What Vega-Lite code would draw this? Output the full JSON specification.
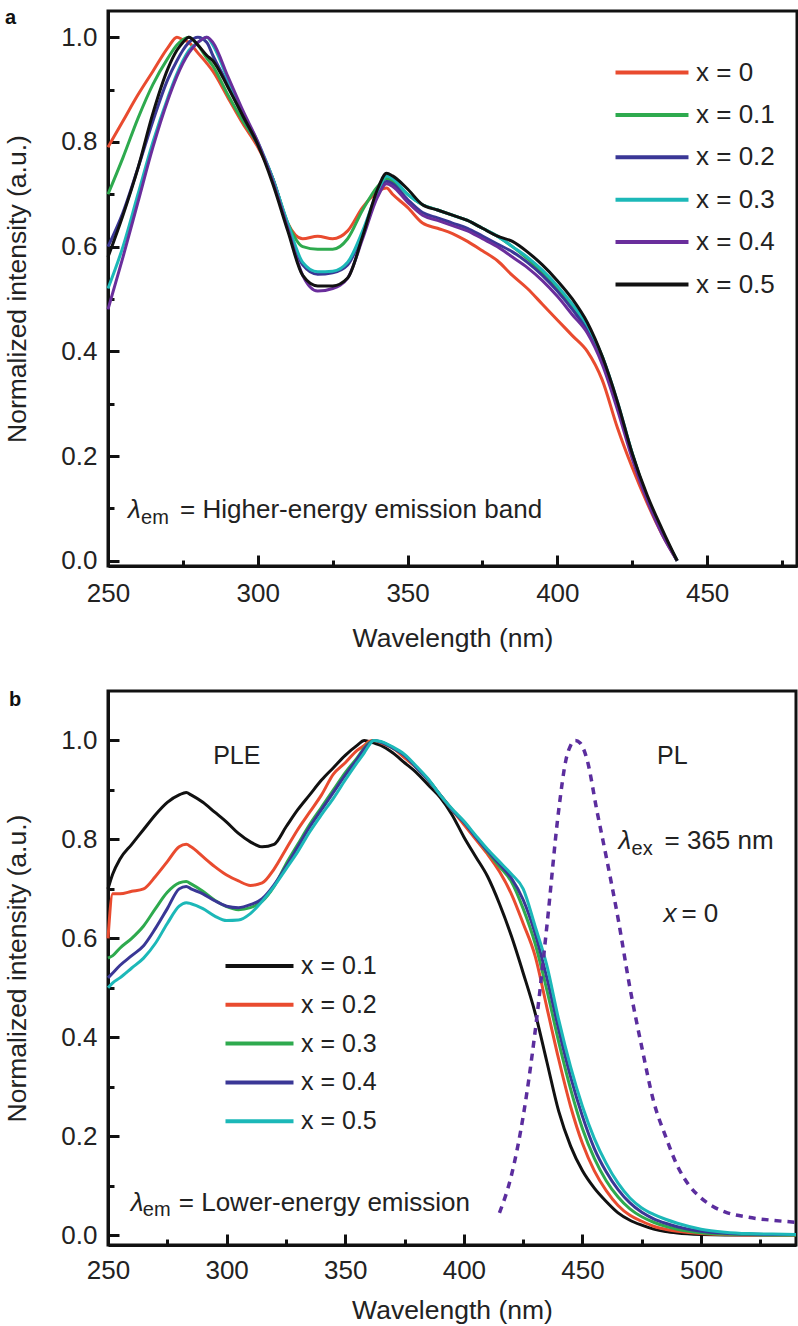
{
"$schema":"https://vega.github.io/schema/vega-lite/v6.json",
"background":"white",
"padding":{"left":3,"top":6,"right":2,"bottom":0},
"spacing":35,
"resolve":{"scale":{"color":"independent"}},
"datasets":{
"a":[
{"s":"x = 0","w":250,"v":0.79},{"s":"x = 0","w":255,"v":0.84},{"s":"x = 0","w":260,"v":0.89},{"s":"x = 0","w":265,"v":0.935},{"s":"x = 0","w":270,"v":0.98},{"s":"x = 0","w":273,"v":1.0},{"s":"x = 0","w":275,"v":0.995},{"s":"x = 0","w":277,"v":0.99},{"s":"x = 0","w":280,"v":0.97},{"s":"x = 0","w":283,"v":0.95},{"s":"x = 0","w":285,"v":0.935},{"s":"x = 0","w":290,"v":0.885},{"s":"x = 0","w":295,"v":0.835},{"s":"x = 0","w":300,"v":0.79},{"s":"x = 0","w":305,"v":0.73},{"s":"x = 0","w":310,"v":0.645},{"s":"x = 0","w":315,"v":0.615},{"s":"x = 0","w":320,"v":0.62},{"s":"x = 0","w":325,"v":0.615},{"s":"x = 0","w":330,"v":0.63},{"s":"x = 0","w":335,"v":0.675},{"s":"x = 0","w":340,"v":0.705},{"s":"x = 0","w":343,"v":0.712},{"s":"x = 0","w":345,"v":0.7},{"s":"x = 0","w":350,"v":0.675},{"s":"x = 0","w":355,"v":0.645},{"s":"x = 0","w":360,"v":0.635},{"s":"x = 0","w":365,"v":0.625},{"s":"x = 0","w":370,"v":0.61},{"s":"x = 0","w":375,"v":0.592},{"s":"x = 0","w":380,"v":0.573},{"s":"x = 0","w":385,"v":0.545},{"s":"x = 0","w":390,"v":0.52},{"s":"x = 0","w":395,"v":0.49},{"s":"x = 0","w":400,"v":0.46},{"s":"x = 0","w":405,"v":0.43},{"s":"x = 0","w":410,"v":0.4},{"s":"x = 0","w":415,"v":0.345},{"s":"x = 0","w":420,"v":0.255},{"s":"x = 0","w":425,"v":0.178},{"s":"x = 0","w":430,"v":0.11},{"s":"x = 0","w":435,"v":0.05},{"s":"x = 0","w":440,"v":0.0},
{"s":"x = 0.1","w":250,"v":0.7},{"s":"x = 0.1","w":255,"v":0.77},{"s":"x = 0.1","w":260,"v":0.845},{"s":"x = 0.1","w":265,"v":0.91},{"s":"x = 0.1","w":270,"v":0.96},{"s":"x = 0.1","w":273,"v":0.985},{"s":"x = 0.1","w":275,"v":0.995},{"s":"x = 0.1","w":277,"v":1.0},{"s":"x = 0.1","w":280,"v":0.985},{"s":"x = 0.1","w":283,"v":0.96},{"s":"x = 0.1","w":285,"v":0.945},{"s":"x = 0.1","w":290,"v":0.89},{"s":"x = 0.1","w":295,"v":0.84},{"s":"x = 0.1","w":300,"v":0.795},{"s":"x = 0.1","w":305,"v":0.73},{"s":"x = 0.1","w":310,"v":0.645},{"s":"x = 0.1","w":315,"v":0.6},{"s":"x = 0.1","w":320,"v":0.595},{"s":"x = 0.1","w":325,"v":0.595},{"s":"x = 0.1","w":330,"v":0.615},{"s":"x = 0.1","w":335,"v":0.67},{"s":"x = 0.1","w":340,"v":0.715},{"s":"x = 0.1","w":343,"v":0.73},{"s":"x = 0.1","w":345,"v":0.725},{"s":"x = 0.1","w":350,"v":0.7},{"s":"x = 0.1","w":355,"v":0.68},{"s":"x = 0.1","w":360,"v":0.67},{"s":"x = 0.1","w":365,"v":0.66},{"s":"x = 0.1","w":370,"v":0.65},{"s":"x = 0.1","w":375,"v":0.635},{"s":"x = 0.1","w":380,"v":0.62},{"s":"x = 0.1","w":385,"v":0.6},{"s":"x = 0.1","w":390,"v":0.577},{"s":"x = 0.1","w":395,"v":0.55},{"s":"x = 0.1","w":400,"v":0.52},{"s":"x = 0.1","w":405,"v":0.485},{"s":"x = 0.1","w":410,"v":0.445},{"s":"x = 0.1","w":415,"v":0.39},{"s":"x = 0.1","w":420,"v":0.3},{"s":"x = 0.1","w":425,"v":0.205},{"s":"x = 0.1","w":430,"v":0.12},{"s":"x = 0.1","w":435,"v":0.055},{"s":"x = 0.1","w":440,"v":0.0},
{"s":"x = 0.2","w":250,"v":0.6},{"s":"x = 0.2","w":255,"v":0.665},{"s":"x = 0.2","w":260,"v":0.75},{"s":"x = 0.2","w":265,"v":0.84},{"s":"x = 0.2","w":270,"v":0.92},{"s":"x = 0.2","w":273,"v":0.955},{"s":"x = 0.2","w":275,"v":0.975},{"s":"x = 0.2","w":277,"v":0.99},{"s":"x = 0.2","w":280,"v":1.0},{"s":"x = 0.2","w":283,"v":0.99},{"s":"x = 0.2","w":285,"v":0.965},{"s":"x = 0.2","w":290,"v":0.91},{"s":"x = 0.2","w":295,"v":0.85},{"s":"x = 0.2","w":300,"v":0.795},{"s":"x = 0.2","w":305,"v":0.73},{"s":"x = 0.2","w":310,"v":0.64},{"s":"x = 0.2","w":315,"v":0.565},{"s":"x = 0.2","w":320,"v":0.547},{"s":"x = 0.2","w":325,"v":0.55},{"s":"x = 0.2","w":330,"v":0.565},{"s":"x = 0.2","w":335,"v":0.625},{"s":"x = 0.2","w":340,"v":0.7},{"s":"x = 0.2","w":343,"v":0.725},{"s":"x = 0.2","w":345,"v":0.72},{"s":"x = 0.2","w":350,"v":0.69},{"s":"x = 0.2","w":355,"v":0.665},{"s":"x = 0.2","w":360,"v":0.655},{"s":"x = 0.2","w":365,"v":0.645},{"s":"x = 0.2","w":370,"v":0.635},{"s":"x = 0.2","w":375,"v":0.62},{"s":"x = 0.2","w":380,"v":0.605},{"s":"x = 0.2","w":385,"v":0.59},{"s":"x = 0.2","w":390,"v":0.57},{"s":"x = 0.2","w":395,"v":0.545},{"s":"x = 0.2","w":400,"v":0.515},{"s":"x = 0.2","w":405,"v":0.48},{"s":"x = 0.2","w":410,"v":0.44},{"s":"x = 0.2","w":415,"v":0.38},{"s":"x = 0.2","w":420,"v":0.295},{"s":"x = 0.2","w":425,"v":0.2},{"s":"x = 0.2","w":430,"v":0.12},{"s":"x = 0.2","w":435,"v":0.055},{"s":"x = 0.2","w":440,"v":0.0},
{"s":"x = 0.3","w":250,"v":0.52},{"s":"x = 0.3","w":255,"v":0.6},{"s":"x = 0.3","w":260,"v":0.7},{"s":"x = 0.3","w":265,"v":0.8},{"s":"x = 0.3","w":270,"v":0.885},{"s":"x = 0.3","w":273,"v":0.93},{"s":"x = 0.3","w":275,"v":0.955},{"s":"x = 0.3","w":277,"v":0.975},{"s":"x = 0.3","w":280,"v":0.99},{"s":"x = 0.3","w":283,"v":1.0},{"s":"x = 0.3","w":285,"v":0.985},{"s":"x = 0.3","w":290,"v":0.92},{"s":"x = 0.3","w":295,"v":0.855},{"s":"x = 0.3","w":300,"v":0.8},{"s":"x = 0.3","w":305,"v":0.73},{"s":"x = 0.3","w":310,"v":0.645},{"s":"x = 0.3","w":315,"v":0.57},{"s":"x = 0.3","w":320,"v":0.552},{"s":"x = 0.3","w":325,"v":0.553},{"s":"x = 0.3","w":330,"v":0.57},{"s":"x = 0.3","w":335,"v":0.63},{"s":"x = 0.3","w":340,"v":0.705},{"s":"x = 0.3","w":343,"v":0.735},{"s":"x = 0.3","w":345,"v":0.73},{"s":"x = 0.3","w":350,"v":0.7},{"s":"x = 0.3","w":355,"v":0.68},{"s":"x = 0.3","w":360,"v":0.67},{"s":"x = 0.3","w":365,"v":0.66},{"s":"x = 0.3","w":370,"v":0.65},{"s":"x = 0.3","w":375,"v":0.635},{"s":"x = 0.3","w":380,"v":0.62},{"s":"x = 0.3","w":385,"v":0.6},{"s":"x = 0.3","w":390,"v":0.58},{"s":"x = 0.3","w":395,"v":0.555},{"s":"x = 0.3","w":400,"v":0.525},{"s":"x = 0.3","w":405,"v":0.49},{"s":"x = 0.3","w":410,"v":0.45},{"s":"x = 0.3","w":415,"v":0.39},{"s":"x = 0.3","w":420,"v":0.305},{"s":"x = 0.3","w":425,"v":0.205},{"s":"x = 0.3","w":430,"v":0.12},{"s":"x = 0.3","w":435,"v":0.055},{"s":"x = 0.3","w":440,"v":0.0},
{"s":"x = 0.4","w":250,"v":0.48},{"s":"x = 0.4","w":255,"v":0.58},{"s":"x = 0.4","w":260,"v":0.685},{"s":"x = 0.4","w":265,"v":0.79},{"s":"x = 0.4","w":270,"v":0.88},{"s":"x = 0.4","w":273,"v":0.925},{"s":"x = 0.4","w":275,"v":0.95},{"s":"x = 0.4","w":277,"v":0.97},{"s":"x = 0.4","w":280,"v":0.99},{"s":"x = 0.4","w":283,"v":1.0},{"s":"x = 0.4","w":285,"v":0.99},{"s":"x = 0.4","w":290,"v":0.925},{"s":"x = 0.4","w":295,"v":0.86},{"s":"x = 0.4","w":300,"v":0.8},{"s":"x = 0.4","w":305,"v":0.725},{"s":"x = 0.4","w":310,"v":0.635},{"s":"x = 0.4","w":315,"v":0.545},{"s":"x = 0.4","w":320,"v":0.515},{"s":"x = 0.4","w":325,"v":0.52},{"s":"x = 0.4","w":330,"v":0.54},{"s":"x = 0.4","w":335,"v":0.615},{"s":"x = 0.4","w":340,"v":0.695},{"s":"x = 0.4","w":343,"v":0.72},{"s":"x = 0.4","w":345,"v":0.715},{"s":"x = 0.4","w":350,"v":0.685},{"s":"x = 0.4","w":355,"v":0.66},{"s":"x = 0.4","w":360,"v":0.65},{"s":"x = 0.4","w":365,"v":0.64},{"s":"x = 0.4","w":370,"v":0.63},{"s":"x = 0.4","w":375,"v":0.615},{"s":"x = 0.4","w":380,"v":0.6},{"s":"x = 0.4","w":385,"v":0.58},{"s":"x = 0.4","w":390,"v":0.56},{"s":"x = 0.4","w":395,"v":0.535},{"s":"x = 0.4","w":400,"v":0.505},{"s":"x = 0.4","w":405,"v":0.47},{"s":"x = 0.4","w":410,"v":0.435},{"s":"x = 0.4","w":415,"v":0.375},{"s":"x = 0.4","w":420,"v":0.29},{"s":"x = 0.4","w":425,"v":0.195},{"s":"x = 0.4","w":430,"v":0.115},{"s":"x = 0.4","w":435,"v":0.05},{"s":"x = 0.4","w":440,"v":0.0},
{"s":"x = 0.5","w":250,"v":0.58},{"s":"x = 0.5","w":255,"v":0.66},{"s":"x = 0.5","w":260,"v":0.75},{"s":"x = 0.5","w":265,"v":0.855},{"s":"x = 0.5","w":270,"v":0.94},{"s":"x = 0.5","w":273,"v":0.975},{"s":"x = 0.5","w":275,"v":0.99},{"s":"x = 0.5","w":277,"v":1.0},{"s":"x = 0.5","w":280,"v":0.985},{"s":"x = 0.5","w":283,"v":0.965},{"s":"x = 0.5","w":285,"v":0.955},{"s":"x = 0.5","w":290,"v":0.905},{"s":"x = 0.5","w":295,"v":0.85},{"s":"x = 0.5","w":300,"v":0.795},{"s":"x = 0.5","w":305,"v":0.72},{"s":"x = 0.5","w":310,"v":0.63},{"s":"x = 0.5","w":315,"v":0.545},{"s":"x = 0.5","w":320,"v":0.525},{"s":"x = 0.5","w":325,"v":0.525},{"s":"x = 0.5","w":330,"v":0.54},{"s":"x = 0.5","w":335,"v":0.62},{"s":"x = 0.5","w":340,"v":0.71},{"s":"x = 0.5","w":343,"v":0.74},{"s":"x = 0.5","w":345,"v":0.735},{"s":"x = 0.5","w":350,"v":0.71},{"s":"x = 0.5","w":355,"v":0.68},{"s":"x = 0.5","w":360,"v":0.67},{"s":"x = 0.5","w":365,"v":0.66},{"s":"x = 0.5","w":370,"v":0.65},{"s":"x = 0.5","w":375,"v":0.635},{"s":"x = 0.5","w":380,"v":0.62},{"s":"x = 0.5","w":385,"v":0.61},{"s":"x = 0.5","w":390,"v":0.59},{"s":"x = 0.5","w":395,"v":0.565},{"s":"x = 0.5","w":400,"v":0.535},{"s":"x = 0.5","w":405,"v":0.5},{"s":"x = 0.5","w":410,"v":0.455},{"s":"x = 0.5","w":415,"v":0.39},{"s":"x = 0.5","w":420,"v":0.305},{"s":"x = 0.5","w":425,"v":0.205},{"s":"x = 0.5","w":430,"v":0.125},{"s":"x = 0.5","w":435,"v":0.06},{"s":"x = 0.5","w":440,"v":0.0}
],
"b":[
{"s":"x = 0.1","w":250,"v":0.7},{"s":"x = 0.1","w":252,"v":0.73},{"s":"x = 0.1","w":255,"v":0.76},{"s":"x = 0.1","w":260,"v":0.79},{"s":"x = 0.1","w":265,"v":0.82},{"s":"x = 0.1","w":270,"v":0.85},{"s":"x = 0.1","w":275,"v":0.875},{"s":"x = 0.1","w":280,"v":0.89},{"s":"x = 0.1","w":283,"v":0.895},{"s":"x = 0.1","w":285,"v":0.89},{"s":"x = 0.1","w":290,"v":0.875},{"s":"x = 0.1","w":295,"v":0.855},{"s":"x = 0.1","w":300,"v":0.835},{"s":"x = 0.1","w":305,"v":0.812},{"s":"x = 0.1","w":310,"v":0.795},{"s":"x = 0.1","w":315,"v":0.785},{"s":"x = 0.1","w":320,"v":0.79},{"s":"x = 0.1","w":325,"v":0.825},{"s":"x = 0.1","w":330,"v":0.86},{"s":"x = 0.1","w":335,"v":0.89},{"s":"x = 0.1","w":340,"v":0.92},{"s":"x = 0.1","w":345,"v":0.945},{"s":"x = 0.1","w":350,"v":0.97},{"s":"x = 0.1","w":355,"v":0.99},{"s":"x = 0.1","w":358,"v":1.0},{"s":"x = 0.1","w":360,"v":0.998},{"s":"x = 0.1","w":362,"v":0.995},{"s":"x = 0.1","w":365,"v":0.99},{"s":"x = 0.1","w":370,"v":0.975},{"s":"x = 0.1","w":375,"v":0.955},{"s":"x = 0.1","w":380,"v":0.935},{"s":"x = 0.1","w":385,"v":0.91},{"s":"x = 0.1","w":390,"v":0.885},{"s":"x = 0.1","w":395,"v":0.85},{"s":"x = 0.1","w":400,"v":0.805},{"s":"x = 0.1","w":405,"v":0.765},{"s":"x = 0.1","w":410,"v":0.725},{"s":"x = 0.1","w":415,"v":0.67},{"s":"x = 0.1","w":420,"v":0.605},{"s":"x = 0.1","w":425,"v":0.53},{"s":"x = 0.1","w":430,"v":0.45},{"s":"x = 0.1","w":435,"v":0.35},{"s":"x = 0.1","w":440,"v":0.25},{"s":"x = 0.1","w":445,"v":0.18},{"s":"x = 0.1","w":450,"v":0.13},{"s":"x = 0.1","w":455,"v":0.095},{"s":"x = 0.1","w":460,"v":0.068},{"s":"x = 0.1","w":465,"v":0.045},{"s":"x = 0.1","w":470,"v":0.03},{"s":"x = 0.1","w":475,"v":0.02},{"s":"x = 0.1","w":480,"v":0.012},{"s":"x = 0.1","w":485,"v":0.007},{"s":"x = 0.1","w":490,"v":0.004},{"s":"x = 0.1","w":500,"v":0.001},{"s":"x = 0.1","w":510,"v":0.0},{"s":"x = 0.1","w":520,"v":0.0},{"s":"x = 0.1","w":530,"v":0.0},{"s":"x = 0.1","w":540,"v":0.0},
{"s":"x = 0.2","w":250,"v":0.6},{"s":"x = 0.2","w":252,"v":0.69},{"s":"x = 0.2","w":255,"v":0.69},{"s":"x = 0.2","w":260,"v":0.695},{"s":"x = 0.2","w":265,"v":0.7},{"s":"x = 0.2","w":270,"v":0.725},{"s":"x = 0.2","w":275,"v":0.755},{"s":"x = 0.2","w":280,"v":0.785},{"s":"x = 0.2","w":283,"v":0.79},{"s":"x = 0.2","w":285,"v":0.785},{"s":"x = 0.2","w":290,"v":0.765},{"s":"x = 0.2","w":295,"v":0.745},{"s":"x = 0.2","w":300,"v":0.728},{"s":"x = 0.2","w":305,"v":0.716},{"s":"x = 0.2","w":310,"v":0.707},{"s":"x = 0.2","w":315,"v":0.712},{"s":"x = 0.2","w":320,"v":0.74},{"s":"x = 0.2","w":325,"v":0.78},{"s":"x = 0.2","w":330,"v":0.82},{"s":"x = 0.2","w":335,"v":0.855},{"s":"x = 0.2","w":340,"v":0.89},{"s":"x = 0.2","w":345,"v":0.932},{"s":"x = 0.2","w":350,"v":0.955},{"s":"x = 0.2","w":355,"v":0.98},{"s":"x = 0.2","w":358,"v":0.99},{"s":"x = 0.2","w":360,"v":0.998},{"s":"x = 0.2","w":362,"v":1.0},{"s":"x = 0.2","w":365,"v":0.995},{"s":"x = 0.2","w":370,"v":0.985},{"s":"x = 0.2","w":375,"v":0.965},{"s":"x = 0.2","w":380,"v":0.945},{"s":"x = 0.2","w":385,"v":0.92},{"s":"x = 0.2","w":390,"v":0.89},{"s":"x = 0.2","w":395,"v":0.86},{"s":"x = 0.2","w":400,"v":0.83},{"s":"x = 0.2","w":405,"v":0.8},{"s":"x = 0.2","w":410,"v":0.77},{"s":"x = 0.2","w":415,"v":0.735},{"s":"x = 0.2","w":420,"v":0.69},{"s":"x = 0.2","w":425,"v":0.63},{"s":"x = 0.2","w":430,"v":0.565},{"s":"x = 0.2","w":435,"v":0.46},{"s":"x = 0.2","w":440,"v":0.355},{"s":"x = 0.2","w":445,"v":0.26},{"s":"x = 0.2","w":450,"v":0.185},{"s":"x = 0.2","w":455,"v":0.13},{"s":"x = 0.2","w":460,"v":0.09},{"s":"x = 0.2","w":465,"v":0.06},{"s":"x = 0.2","w":470,"v":0.04},{"s":"x = 0.2","w":475,"v":0.028},{"s":"x = 0.2","w":480,"v":0.018},{"s":"x = 0.2","w":485,"v":0.012},{"s":"x = 0.2","w":490,"v":0.008},{"s":"x = 0.2","w":500,"v":0.003},{"s":"x = 0.2","w":510,"v":0.001},{"s":"x = 0.2","w":520,"v":0.0},{"s":"x = 0.2","w":530,"v":0.0},{"s":"x = 0.2","w":540,"v":0.0},
{"s":"x = 0.3","w":250,"v":0.56},{"s":"x = 0.3","w":252,"v":0.565},{"s":"x = 0.3","w":255,"v":0.58},{"s":"x = 0.3","w":260,"v":0.6},{"s":"x = 0.3","w":265,"v":0.625},{"s":"x = 0.3","w":270,"v":0.66},{"s":"x = 0.3","w":275,"v":0.693},{"s":"x = 0.3","w":280,"v":0.712},{"s":"x = 0.3","w":283,"v":0.715},{"s":"x = 0.3","w":285,"v":0.71},{"s":"x = 0.3","w":290,"v":0.695},{"s":"x = 0.3","w":295,"v":0.677},{"s":"x = 0.3","w":300,"v":0.664},{"s":"x = 0.3","w":305,"v":0.658},{"s":"x = 0.3","w":310,"v":0.662},{"s":"x = 0.3","w":315,"v":0.675},{"s":"x = 0.3","w":320,"v":0.705},{"s":"x = 0.3","w":325,"v":0.75},{"s":"x = 0.3","w":330,"v":0.79},{"s":"x = 0.3","w":335,"v":0.83},{"s":"x = 0.3","w":340,"v":0.865},{"s":"x = 0.3","w":345,"v":0.9},{"s":"x = 0.3","w":350,"v":0.935},{"s":"x = 0.3","w":355,"v":0.965},{"s":"x = 0.3","w":358,"v":0.985},{"s":"x = 0.3","w":360,"v":0.995},{"s":"x = 0.3","w":362,"v":1.0},{"s":"x = 0.3","w":365,"v":0.997},{"s":"x = 0.3","w":370,"v":0.985},{"s":"x = 0.3","w":375,"v":0.97},{"s":"x = 0.3","w":380,"v":0.945},{"s":"x = 0.3","w":385,"v":0.92},{"s":"x = 0.3","w":390,"v":0.89},{"s":"x = 0.3","w":395,"v":0.86},{"s":"x = 0.3","w":400,"v":0.835},{"s":"x = 0.3","w":405,"v":0.805},{"s":"x = 0.3","w":410,"v":0.775},{"s":"x = 0.3","w":415,"v":0.745},{"s":"x = 0.3","w":420,"v":0.715},{"s":"x = 0.3","w":425,"v":0.66},{"s":"x = 0.3","w":430,"v":0.59},{"s":"x = 0.3","w":435,"v":0.495},{"s":"x = 0.3","w":440,"v":0.39},{"s":"x = 0.3","w":445,"v":0.295},{"s":"x = 0.3","w":450,"v":0.215},{"s":"x = 0.3","w":455,"v":0.155},{"s":"x = 0.3","w":460,"v":0.11},{"s":"x = 0.3","w":465,"v":0.077},{"s":"x = 0.3","w":470,"v":0.053},{"s":"x = 0.3","w":475,"v":0.037},{"s":"x = 0.3","w":480,"v":0.026},{"s":"x = 0.3","w":485,"v":0.018},{"s":"x = 0.3","w":490,"v":0.012},{"s":"x = 0.3","w":500,"v":0.005},{"s":"x = 0.3","w":510,"v":0.002},{"s":"x = 0.3","w":520,"v":0.001},{"s":"x = 0.3","w":530,"v":0.0},{"s":"x = 0.3","w":540,"v":0.0},
{"s":"x = 0.4","w":250,"v":0.52},{"s":"x = 0.4","w":252,"v":0.53},{"s":"x = 0.4","w":255,"v":0.545},{"s":"x = 0.4","w":260,"v":0.565},{"s":"x = 0.4","w":265,"v":0.585},{"s":"x = 0.4","w":270,"v":0.62},{"s":"x = 0.4","w":275,"v":0.66},{"s":"x = 0.4","w":280,"v":0.7},{"s":"x = 0.4","w":283,"v":0.705},{"s":"x = 0.4","w":285,"v":0.7},{"s":"x = 0.4","w":290,"v":0.69},{"s":"x = 0.4","w":295,"v":0.676},{"s":"x = 0.4","w":300,"v":0.665},{"s":"x = 0.4","w":305,"v":0.662},{"s":"x = 0.4","w":310,"v":0.668},{"s":"x = 0.4","w":315,"v":0.68},{"s":"x = 0.4","w":320,"v":0.708},{"s":"x = 0.4","w":325,"v":0.745},{"s":"x = 0.4","w":330,"v":0.785},{"s":"x = 0.4","w":335,"v":0.825},{"s":"x = 0.4","w":340,"v":0.86},{"s":"x = 0.4","w":345,"v":0.895},{"s":"x = 0.4","w":350,"v":0.93},{"s":"x = 0.4","w":355,"v":0.962},{"s":"x = 0.4","w":358,"v":0.983},{"s":"x = 0.4","w":360,"v":0.993},{"s":"x = 0.4","w":362,"v":1.0},{"s":"x = 0.4","w":365,"v":0.997},{"s":"x = 0.4","w":370,"v":0.985},{"s":"x = 0.4","w":375,"v":0.97},{"s":"x = 0.4","w":380,"v":0.945},{"s":"x = 0.4","w":385,"v":0.92},{"s":"x = 0.4","w":390,"v":0.89},{"s":"x = 0.4","w":395,"v":0.86},{"s":"x = 0.4","w":400,"v":0.835},{"s":"x = 0.4","w":405,"v":0.805},{"s":"x = 0.4","w":410,"v":0.777},{"s":"x = 0.4","w":415,"v":0.75},{"s":"x = 0.4","w":420,"v":0.722},{"s":"x = 0.4","w":425,"v":0.678},{"s":"x = 0.4","w":430,"v":0.61},{"s":"x = 0.4","w":435,"v":0.52},{"s":"x = 0.4","w":440,"v":0.415},{"s":"x = 0.4","w":445,"v":0.32},{"s":"x = 0.4","w":450,"v":0.24},{"s":"x = 0.4","w":455,"v":0.175},{"s":"x = 0.4","w":460,"v":0.128},{"s":"x = 0.4","w":465,"v":0.092},{"s":"x = 0.4","w":470,"v":0.065},{"s":"x = 0.4","w":475,"v":0.046},{"s":"x = 0.4","w":480,"v":0.033},{"s":"x = 0.4","w":485,"v":0.024},{"s":"x = 0.4","w":490,"v":0.017},{"s":"x = 0.4","w":500,"v":0.008},{"s":"x = 0.4","w":510,"v":0.004},{"s":"x = 0.4","w":520,"v":0.002},{"s":"x = 0.4","w":530,"v":0.001},{"s":"x = 0.4","w":540,"v":0.001},
{"s":"x = 0.5","w":250,"v":0.5},{"s":"x = 0.5","w":252,"v":0.51},{"s":"x = 0.5","w":255,"v":0.52},{"s":"x = 0.5","w":260,"v":0.54},{"s":"x = 0.5","w":265,"v":0.56},{"s":"x = 0.5","w":270,"v":0.59},{"s":"x = 0.5","w":275,"v":0.63},{"s":"x = 0.5","w":280,"v":0.665},{"s":"x = 0.5","w":283,"v":0.672},{"s":"x = 0.5","w":285,"v":0.67},{"s":"x = 0.5","w":290,"v":0.66},{"s":"x = 0.5","w":295,"v":0.645},{"s":"x = 0.5","w":300,"v":0.636},{"s":"x = 0.5","w":305,"v":0.637},{"s":"x = 0.5","w":310,"v":0.65},{"s":"x = 0.5","w":315,"v":0.675},{"s":"x = 0.5","w":320,"v":0.705},{"s":"x = 0.5","w":325,"v":0.74},{"s":"x = 0.5","w":330,"v":0.775},{"s":"x = 0.5","w":335,"v":0.815},{"s":"x = 0.5","w":340,"v":0.85},{"s":"x = 0.5","w":345,"v":0.883},{"s":"x = 0.5","w":350,"v":0.92},{"s":"x = 0.5","w":355,"v":0.955},{"s":"x = 0.5","w":358,"v":0.975},{"s":"x = 0.5","w":360,"v":0.99},{"s":"x = 0.5","w":362,"v":1.0},{"s":"x = 0.5","w":365,"v":0.998},{"s":"x = 0.5","w":370,"v":0.987},{"s":"x = 0.5","w":375,"v":0.972},{"s":"x = 0.5","w":380,"v":0.948},{"s":"x = 0.5","w":385,"v":0.922},{"s":"x = 0.5","w":390,"v":0.89},{"s":"x = 0.5","w":395,"v":0.862},{"s":"x = 0.5","w":400,"v":0.837},{"s":"x = 0.5","w":405,"v":0.808},{"s":"x = 0.5","w":410,"v":0.78},{"s":"x = 0.5","w":415,"v":0.755},{"s":"x = 0.5","w":420,"v":0.73},{"s":"x = 0.5","w":425,"v":0.7},{"s":"x = 0.5","w":430,"v":0.625},{"s":"x = 0.5","w":435,"v":0.545},{"s":"x = 0.5","w":440,"v":0.435},{"s":"x = 0.5","w":445,"v":0.34},{"s":"x = 0.5","w":450,"v":0.26},{"s":"x = 0.5","w":455,"v":0.195},{"s":"x = 0.5","w":460,"v":0.145},{"s":"x = 0.5","w":465,"v":0.105},{"s":"x = 0.5","w":470,"v":0.075},{"s":"x = 0.5","w":475,"v":0.055},{"s":"x = 0.5","w":480,"v":0.042},{"s":"x = 0.5","w":485,"v":0.032},{"s":"x = 0.5","w":490,"v":0.024},{"s":"x = 0.5","w":500,"v":0.012},{"s":"x = 0.5","w":510,"v":0.006},{"s":"x = 0.5","w":520,"v":0.003},{"s":"x = 0.5","w":530,"v":0.002},{"s":"x = 0.5","w":540,"v":0.001}
],
"pl":[
{"w":415,"v":0.045},{"w":420,"v":0.12},{"w":425,"v":0.24},{"w":430,"v":0.41},{"w":435,"v":0.625},{"w":440,"v":0.86},{"w":443,"v":0.96},{"w":445,"v":0.99},{"w":447,"v":1.0},{"w":449,"v":0.995},{"w":452,"v":0.96},{"w":456,"v":0.86},{"w":460,"v":0.765},{"w":465,"v":0.64},{"w":470,"v":0.5},{"w":475,"v":0.38},{"w":480,"v":0.27},{"w":485,"v":0.2},{"w":490,"v":0.14},{"w":495,"v":0.1},{"w":500,"v":0.075},{"w":505,"v":0.058},{"w":510,"v":0.047},{"w":520,"v":0.036},{"w":530,"v":0.03},{"w":540,"v":0.026}
]
},
"vconcat":[
{
"width":689,"height":555,
"layer":[
{"data":{"name":"a"},"mark":{"type":"line","strokeWidth":3,"interpolate":"monotone"},
"encoding":{
"x":{"field":"w","type":"quantitative","scale":{"domain":[250,480],"nice":false,"zero":false},
"axis":{"title":"Wavelength (nm)","values":[250,275,300,325,350,375,400,425,450,475],"labelExpr":"datum.value % 50 == 0 ? datum.label : ''","labelFlush":false,"tickSize":{"condition":{"test":"datum.value % 50 == 0","value":-11},"value":-6},"labelPadding":25,"titlePadding":19}},
"y":{"field":"v","type":"quantitative","scale":{"domain":[-0.01,1.05],"nice":false,"zero":false},
"axis":{"title":"Normalized intensity (a.u.)","values":[0,0.1,0.2,0.3,0.4,0.5,0.6,0.7,0.8,0.9,1.0],"format":".1f","labelExpr":"round(datum.value*10) % 2 == 0 ? datum.label : ''","labelFlush":false,"tickSize":{"condition":{"test":"round(datum.value*10) % 2 == 0","value":-11},"value":-6},"labelPadding":22,"titlePadding":29}},
"color":{"field":"s","type":"nominal","scale":{"domain":["x = 0","x = 0.1","x = 0.2","x = 0.3","x = 0.4","x = 0.5"],"range":["#e94b2f","#2eaa4e","#3a3796","#1cb8b8","#6a2e9c","#111111"]},
"legend":{"title":null,"orient":"none","legendX":531,"legendY":48.5,"symbolType":"M-5,0H5","symbolSize":213,"symbolStrokeWidth":4,"labelFontSize":26,"labelOffset":31,"rowPadding":16.4,"padding":0,"labelColor":"#222"}}
}},
{"data":{"values":[{}]},"mark":{"type":"text","text":"a","fontWeight":"bold","fontSize":20,"align":"left","baseline":"alphabetic","dx":-103,"dy":13,"color":"#111"},"encoding":{"x":{"datum":250},"y":{"datum":1.05}}},
{"data":{"values":[{}]},"mark":{"type":"text","text":"λ","fontStyle":"italic","fontSize":26,"align":"left","baseline":"alphabetic","color":"#222"},"encoding":{"x":{"datum":256.7},"y":{"datum":0.0825}}},
{"data":{"values":[{}]},"mark":{"type":"text","text":"em","fontSize":20,"align":"left","baseline":"alphabetic","dx":13,"dy":6,"color":"#222"},"encoding":{"x":{"datum":256.7},"y":{"datum":0.0825}}},
{"data":{"values":[{}]},"mark":{"type":"text","text":"= Higher-energy emission band","fontSize":26,"align":"left","baseline":"alphabetic","dx":52,"color":"#222"},"encoding":{"x":{"datum":256.7},"y":{"datum":0.0825}}}
]
},
{
"width":688,"height":554,
"layer":[
{"data":{"name":"b"},"mark":{"type":"line","strokeWidth":3,"interpolate":"monotone"},
"encoding":{
"x":{"field":"w","type":"quantitative","scale":{"domain":[250,540],"nice":false,"zero":false},
"axis":{"title":"Wavelength (nm)","values":[250,275,300,325,350,375,400,425,450,475,500,525],"labelExpr":"datum.value % 50 == 0 ? datum.label : ''","labelFlush":false,"tickSize":{"condition":{"test":"datum.value % 50 == 0","value":-11},"value":-6},"labelPadding":23,"titlePadding":14}},
"y":{"field":"v","type":"quantitative","scale":{"domain":[-0.02,1.1],"nice":false,"zero":false},
"axis":{"title":"Normalized intensity (a.u.)","values":[0,0.1,0.2,0.3,0.4,0.5,0.6,0.7,0.8,0.9,1.0],"format":".1f","labelExpr":"round(datum.value*10) % 2 == 0 ? datum.label : ''","labelFlush":false,"tickSize":{"condition":{"test":"round(datum.value*10) % 2 == 0","value":-11},"value":-6},"labelPadding":22,"titlePadding":29}},
"color":{"field":"s","type":"nominal","scale":{"domain":["x = 0.1","x = 0.2","x = 0.3","x = 0.4","x = 0.5"],"range":["#111111","#e94b2f","#2eaa4e","#3a3796","#1cb8b8"]},
"legend":{"title":null,"orient":"none","legendX":139,"legendY":262.5,"symbolType":"M-5,0H5","symbolSize":185,"symbolStrokeWidth":4,"labelFontSize":25,"labelOffset":29,"rowPadding":12.8,"padding":0,"labelColor":"#222"}}
}},
{"data":{"name":"pl"},"mark":{"type":"line","strokeWidth":3.5,"strokeDash":[7,6],"color":"#5b2d9e","interpolate":"monotone"},"encoding":{"x":{"field":"w","type":"quantitative"},"y":{"field":"v","type":"quantitative"}}},
{"data":{"values":[{}]},"mark":{"type":"text","text":"b","fontWeight":"bold","fontSize":20,"align":"left","baseline":"alphabetic","dx":-99,"dy":15,"color":"#111"},"encoding":{"x":{"datum":250},"y":{"datum":1.1}}},
{"data":{"values":[{}]},"mark":{"type":"text","text":"PLE","fontSize":25,"align":"center","baseline":"middle","color":"#222"},"encoding":{"x":{"datum":304.3},"y":{"datum":0.968}}},
{"data":{"values":[{}]},"mark":{"type":"text","text":"PL","fontSize":25,"align":"center","baseline":"middle","color":"#222"},"encoding":{"x":{"datum":487.9},"y":{"datum":0.968}}},
{"data":{"values":[{}]},"mark":{"type":"text","text":"λ","fontStyle":"italic","fontSize":26,"align":"left","baseline":"alphabetic","color":"#222"},"encoding":{"x":{"datum":465.2},"y":{"datum":0.78}}},
{"data":{"values":[{}]},"mark":{"type":"text","text":"ex","fontSize":20,"align":"left","baseline":"alphabetic","dx":13,"dy":6,"color":"#222"},"encoding":{"x":{"datum":465.2},"y":{"datum":0.78}}},
{"data":{"values":[{}]},"mark":{"type":"text","text":"= 365 nm","fontSize":26,"align":"left","baseline":"alphabetic","dx":46,"color":"#222"},"encoding":{"x":{"datum":465.2},"y":{"datum":0.78}}},
{"data":{"values":[{}]},"mark":{"type":"text","text":"x","fontStyle":"italic","fontSize":26,"align":"left","baseline":"alphabetic","color":"#222"},"encoding":{"x":{"datum":484.1},"y":{"datum":0.632}}},
{"data":{"values":[{}]},"mark":{"type":"text","text":"= 0","fontSize":26,"align":"left","baseline":"alphabetic","dx":18,"color":"#222"},"encoding":{"x":{"datum":484.1},"y":{"datum":0.632}}},
{"data":{"values":[{}]},"mark":{"type":"text","text":"λ","fontStyle":"italic","fontSize":26,"align":"left","baseline":"alphabetic","color":"#222"},"encoding":{"x":{"datum":259.6},"y":{"datum":0.049}}},
{"data":{"values":[{}]},"mark":{"type":"text","text":"em","fontSize":20,"align":"left","baseline":"alphabetic","dx":12,"dy":5,"color":"#222"},"encoding":{"x":{"datum":259.6},"y":{"datum":0.049}}},
{"data":{"values":[{}]},"mark":{"type":"text","text":"= Lower-energy emission","fontSize":26,"align":"left","baseline":"alphabetic","dx":48,"color":"#222"},"encoding":{"x":{"datum":259.6},"y":{"datum":0.049}}}
]
}
],
"config":{
"font":"Liberation Sans",
"view":{"stroke":"#111","strokeWidth":3},
"axis":{"domainColor":"#111","domainWidth":3,"tickColor":"#111","tickWidth":3,"labelFontSize":26,"labelColor":"#222","titleFontSize":26.5,"titleFontWeight":"normal","titleColor":"#222","grid":false,"labelFont":"Liberation Sans","titleFont":"Liberation Sans"},
"legend":{"labelFont":"Liberation Sans"},
"text":{"font":"Liberation Sans"}
}
}
